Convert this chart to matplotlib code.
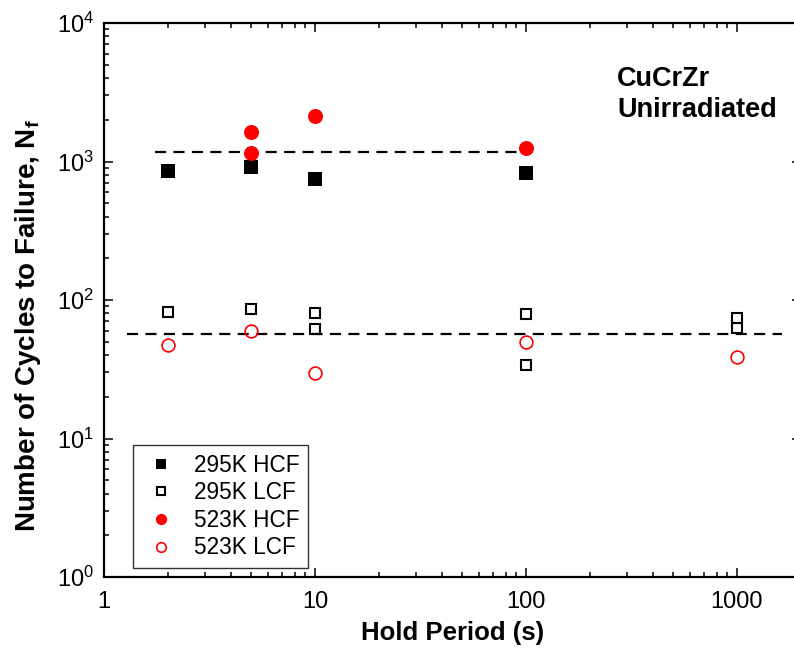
import numpy as np
import matplotlib
matplotlib.use('Agg')
import matplotlib.pyplot as plt
from matplotlib.ticker import LogLocator, FixedLocator, FixedFormatter, NullFormatter

plt.rcParams['font.family'] = ['Liberation Sans', 'DejaVu Sans']
plt.rcParams['mathtext.fontset'] = 'custom'
plt.rcParams['mathtext.rm'] = 'Liberation Sans'
plt.rcParams['mathtext.bf'] = 'Liberation Sans:bold'

# Data
hold_295_hcf = [2, 5, 10, 100]
nf_295_hcf = [853, 908, 748, 822]

hold_295_lcf = [2, 5, 10, 10, 100, 100, 1000, 1000]
nf_295_lcf = [81.5, 85.7, 80.2, 61.8, 79.3, 33.8, 74.5, 63.1]

hold_523_hcf = [5, 5, 10, 100]
nf_523_hcf = [1633, 1146, 2119, 1245]

hold_523_lcf = [2, 5, 10, 100, 1000]
nf_523_lcf = [47.1, 60.0, 29.9, 49.7, 38.8]

# average lines
hcf_avg_x = [1.75, 100]
hcf_avg_y = [1177, 1177]
lcf_avg_x = [1.28, 1630]
lcf_avg_y = [56.8, 56.8]

x_ticks = [1, 10, 100, 1000]
x_labels = ['1', '10', '100', '1000']

fig = plt.figure(figsize=(7.94, 6.5), dpi=100)
ax = fig.add_axes([0.131, 0.1123, 0.8772, 0.8523])

ax.plot(hcf_avg_x, hcf_avg_y, color='black', lw=1.6, dashes=(5, 3.3), zorder=1)
ax.plot(lcf_avg_x, lcf_avg_y, color='black', lw=1.6, dashes=(5, 3.3), zorder=1)

ax.plot(hold_295_hcf, nf_295_hcf, 's', color='black', ms=9.4, mew=0,
        ls='none', label='295K HCF', zorder=3)
ax.plot(hold_295_lcf, nf_295_lcf, 's', mfc='none', mec='black', ms=7.2, mew=1.5,
        ls='none', label='295K LCF', zorder=3)
ax.plot(hold_523_hcf, nf_523_hcf, 'o', color='red', ms=10.8, mew=0,
        ls='none', label='523K HCF', zorder=3)
ax.plot(hold_523_lcf, nf_523_lcf, 'o', mfc='none', mec='red', ms=9.2, mew=1.2,
        ls='none', label='523K LCF', zorder=3)

ax.set_xscale('log')
ax.set_yscale('log')
ax.set_xlim(1, 2000)
ax.set_ylim(1, 1e4)

ax.xaxis.set_major_locator(FixedLocator(x_ticks))
ax.xaxis.set_major_formatter(FixedFormatter(x_labels))
ax.xaxis.set_minor_locator(LogLocator(base=10, subs=np.arange(2, 10)))
ax.xaxis.set_minor_formatter(NullFormatter())
ax.yaxis.set_major_locator(LogLocator(base=10, numticks=10))
ax.yaxis.set_minor_locator(LogLocator(base=10, subs=np.arange(2, 10), numticks=10))
ax.yaxis.set_minor_formatter(NullFormatter())

ax.tick_params(which='both', direction='in', top=True, right=True, width=1.1, color='black')
ax.tick_params(which='major', length=6.5, labelsize=17)
ax.tick_params(axis='x', which='major', pad=10)
ax.tick_params(axis='y', which='major', pad=7)
ax.tick_params(which='minor', length=3.5)

for s in ax.spines.values():
    s.set_linewidth(1.6)

ax.set_xlabel('Hold Period (s)', fontsize=18.5, fontweight='bold', labelpad=6)
ax.set_ylabel(r'Number of Cycles to Failure, N$_\mathbf{f}$', fontsize=20,
              fontweight='bold')
ax.yaxis.set_label_coords(-0.087, 0.453)

ax.text(0.737, 0.922, 'CuCrZr\nUnirradiated', transform=ax.transAxes,
        fontsize=19.5, fontweight='bold', va='top', ha='left', linespacing=1.25)

leg = ax.legend(loc='lower left', bbox_to_anchor=(0.0416, 0.0162), borderaxespad=0,
                fontsize=16.3, frameon=True, fancybox=False, edgecolor='black',
                markerscale=0.75, handlelength=1.75, handletextpad=0.55,
                labelspacing=0.2, borderpad=0.38)
leg.get_frame().set_linewidth(1.0)

fig.savefig('out.png', dpi=100)
